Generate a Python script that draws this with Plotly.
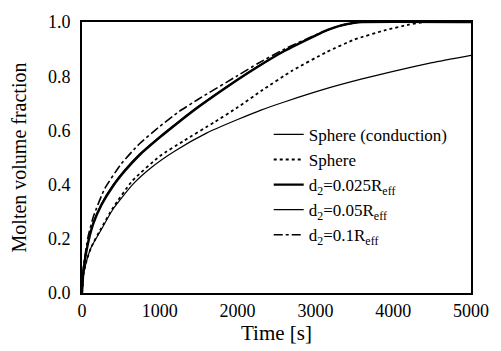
import plotly.graph_objects as go

# Time [s] and molten volume fraction
t_cond = [0, 20, 60, 120, 230, 400, 650, 900, 1200, 1600, 2000, 2300, 2600, 3150, 3600, 4000, 4500, 5000]
f_cond = [0, 0.07, 0.12, 0.17, 0.225, 0.31, 0.40, 0.465, 0.525, 0.59, 0.64, 0.675, 0.705, 0.755, 0.79, 0.818, 0.85, 0.877]

t_sph = [0, 20, 60, 120, 230, 400, 650, 1000, 1300, 1700, 2000, 2300, 2700, 3150, 3500, 3900, 4200, 4400, 5000]
f_sph = [0, 0.07, 0.12, 0.17, 0.23, 0.315, 0.415, 0.505, 0.56, 0.63, 0.685, 0.745, 0.82, 0.89, 0.935, 0.97, 0.99, 1.0, 1.0]

t_d025 = [0, 20, 60, 144, 250, 400, 550, 736, 1000, 1250, 1500, 2000, 2260, 2600, 3000, 3150, 3300, 3500, 3600, 5000]
f_d025 = [0, 0.085, 0.16, 0.255, 0.325, 0.395, 0.45, 0.508, 0.574, 0.632, 0.687, 0.787, 0.835, 0.893, 0.95, 0.97, 0.985, 0.997, 1.0, 1.0]

t_d05 = [0, 20, 60, 144, 250, 400, 550, 736, 1000, 1250, 1500, 2000, 2260, 2600, 3000, 3150, 3300, 3500, 3600, 5000]
f_d05 = [0, 0.088, 0.165, 0.26, 0.33, 0.40, 0.455, 0.512, 0.578, 0.635, 0.69, 0.789, 0.837, 0.894, 0.95, 0.97, 0.985, 0.997, 1.0, 1.0]

t_d1 = [0, 20, 80, 150, 292, 500, 736, 1000, 1250, 1500, 2000, 2260, 2600, 3000, 3150, 3300, 3500, 3600, 5000]
f_d1 = [0, 0.10, 0.21, 0.285, 0.385, 0.475, 0.55, 0.615, 0.67, 0.716, 0.802, 0.847, 0.900, 0.952, 0.97, 0.985, 0.997, 1.0, 1.0]

names = ["Sphere (conduction)", "Sphere",
         "d<sub>2</sub>=0.025R<sub>eff</sub>",
         "d<sub>2</sub>=0.05R<sub>eff</sub>",
         "d<sub>2</sub>=0.1R<sub>eff</sub>"]

x_ticks = [0, 1000, 2000, 3000, 4000, 5000]
y_ticks = [0.0, 0.2, 0.4, 0.6, 0.8, 1.0]
y_tick_text = ["0.0", "0.2", "0.4", "0.6", "0.8", "1.0"]

font = "Liberation Serif"

fig = go.Figure()
series = [
    (t_cond, f_cond, dict(color="black", width=1.2, dash="solid")),
    (t_sph, f_sph, dict(color="black", width=1.8, dash="dot")),
    (t_d025, f_d025, dict(color="black", width=2.4, dash="solid")),
    (t_d05, f_d05, dict(color="black", width=1.2, dash="solid")),
    (t_d1, f_d1, dict(color="black", width=1.6, dash="dashdot")),
]
for (tx, fy, ln), nm in zip(series, names):
    fig.add_trace(go.Scatter(x=tx, y=fy, mode="lines", name=nm,
                             line=dict(shape="spline", smoothing=0.5, **ln)))

fig.update_layout(
    width=501, height=351,
    margin=dict(l=82, r=25, t=14, b=58),
    paper_bgcolor="white", plot_bgcolor="white",
    font=dict(family=font, color="black", size=17),
    showlegend=True,
    legend=dict(x=0.48, y=0.65, xanchor="left", yanchor="top",
                bgcolor="rgba(0,0,0,0)", borderwidth=0,
                font=dict(family=font, size=17, color="black"),
                tracegroupgap=0),
    xaxis=dict(range=[0, 5000], tickvals=x_ticks, showgrid=False, zeroline=False,
               showline=True, linecolor="black", linewidth=2, mirror=True,
               ticks="", tickfont=dict(family=font, size=18),
               title=dict(text="Time [s]", font=dict(family=font, size=21), standoff=0)),
    yaxis=dict(range=[0, 1.0], tickvals=y_ticks, ticktext=y_tick_text, showgrid=False,
               zeroline=False, showline=True, linecolor="black", linewidth=2, mirror=True,
               ticks="", ticklabelstandoff=6, tickfont=dict(family=font, size=18),
               title=dict(text="Molten volume fraction", font=dict(family=font, size=20), standoff=16)),
)

fig.write_html("out.html")
